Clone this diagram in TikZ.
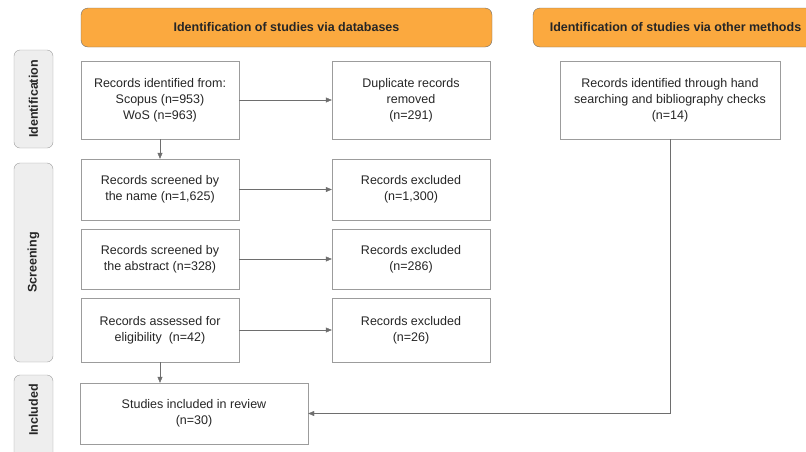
\documentclass[tikz,border=0pt]{standalone}
\usepackage{fontspec}
\setmainfont{Liberation Sans}
\usetikzlibrary{arrows.meta}
\definecolor{hdrfill}{HTML}{FBA93F}
\definecolor{linegray}{HTML}{6E6E6E}
\definecolor{boxgray}{HTML}{9C9C9C}
\definecolor{sidefill}{HTML}{EEEEEE}
\newcommand{\bodyfont}{\fontsize{12.5}{16}\selectfont}
\tikzset{
  box/.style={draw=boxgray, fill=white, align=center, inner sep=0pt, minimum width=#1},
  box/.default=158pt,
  hdr/.style={draw=linegray, fill=hdrfill, rounded corners=7pt, minimum height=39pt, inner sep=0pt, font=\bodyfont\bfseries},
  sidebox/.style={draw=boxgray, fill=sidefill, rounded corners=6pt},
  arr/.style={draw=linegray, -{Triangle[length=6pt,width=5pt]}}
}
\begin{document}
\begin{tikzpicture}[x=1pt,y=-1pt,font=\bodyfont,text=black!85]
	\useasboundingbox (0,0) rectangle (806,451);
	\clip (0,0) rectangle (806,451);
	% headers
	\node[hdr,minimum width=411pt] (hdrdb) at (286.5,27.5) {Identification of studies via databases};
	\node[hdr,minimum width=285pt] (hdroth) at (675.5,27.5) {Identification of studies via other methods};
	% phase labels
	\foreach \a/\b/\t/\n in {50/148/99/Identification,163/362/262.5/Screening,375/480/410/Included}{
		\draw[sidebox] (14,\a) rectangle (53,\b);
		\node[rotate=90,font=\bodyfont\bfseries] (lab\n) at (33.5,\t) {\n};}
	% records
	\node[box,minimum height=78pt] (ident) at (160,100) {Records identified from:\\Scopus (n=953)\\WoS (n=963)};
	\node[box,minimum height=78pt] (dupl) at (411,100) {Duplicate records\\removed\\(n=291)};
	\node[box=220pt,minimum height=78pt] (hand) at (670,100) {Records identified through hand\\searching and bibliography checks\\(n=14)};
	\node[box,minimum height=61pt] (name) at (160,189.5) {Records screened by\\the name (n=1,625)};
	\node[box,minimum height=61pt] (exname) at (411,189.5) {Records excluded\\(n=1,300)};
	\node[box,minimum height=60pt] (abst) at (160,259) {Records screened by\\the abstract (n=328)};
	\node[box,minimum height=60pt] (exabst) at (411,259) {Records excluded\\(n=286)};
	\node[box,minimum height=64pt] (elig) at (160,330) {Records assessed for\\eligibility\ \ (n=42)};
	\node[box,minimum height=64pt] (exelig) at (411,330) {Records excluded\\(n=26)};
	\node[box=228pt,minimum height=61pt] (incl) at (194,413.5) {Studies included in review\\(n=30)};
	% flow
	\draw[arr] (ident)--(dupl);
	\draw[arr] (ident)--(name);
	\foreach \s/\e in {name/exname,abst/exabst,elig/exelig}\draw[arr] (\s)--(\e);
	\draw[arr] (elig.south)--(elig.south|-incl.north);
	\draw[arr] (hand.south)|-(incl.east);
\end{tikzpicture}
\end{document}
